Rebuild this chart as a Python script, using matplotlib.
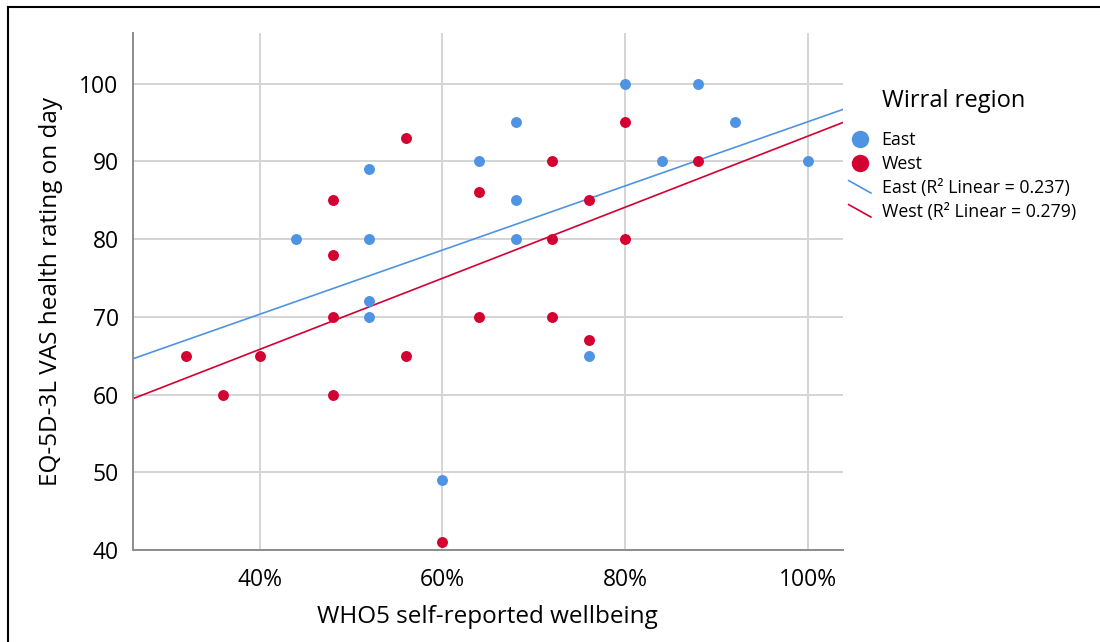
import numpy as np
import matplotlib.pyplot as plt
from matplotlib.lines import Line2D
from matplotlib.legend_handler import HandlerBase

plt.rcParams['font.family'] = ['Open Sans', 'DejaVu Sans']

# WHO5 wellbeing (%) vs EQ-5D-3L VAS rating
east_x = [44, 52, 52, 52, 52, 60, 64, 68, 68, 68, 76, 80, 84, 88, 92, 100]
east_y = [80, 89, 80, 72, 70, 49, 90, 95, 85, 80, 65, 100, 90, 100, 95, 90]
west_x = [32, 36, 40, 48, 48, 48, 48, 56, 56, 60, 64, 64, 72, 72, 72, 76, 76, 80, 80, 88]
west_y = [65, 60, 65, 85, 78, 70, 60, 93, 65, 41, 86, 70, 90, 80, 70, 85, 67, 95, 80, 90]

# fit lines: (intercept, slope)
east_fit = (53.8, 0.413)
west_fit = (47.5, 0.4575)
east_r2 = 0.237
west_r2 = 0.279

blue = '#4f93e3'
red = '#d50032'

fig = plt.figure(figsize=(11, 6.42), dpi=100)
ax = fig.add_axes([0.1205, 0.1433, 0.6458, 0.8053])

xlim = (26.1, 103.8)
ax.set_xlim(xlim)
ax.set_ylim(40, 106.5)

ax.grid(True, color='#d4d4d4', lw=1.4)
ax.set_axisbelow(True)
for s in ['top', 'right']:
    ax.spines[s].set_visible(False)
for s in ['left', 'bottom']:
    ax.spines[s].set_color('#8c8c8c')
    ax.spines[s].set_linewidth(1.4)

xs = np.array(xlim)
ax.plot(xs, east_fit[0] + east_fit[1]*xs, color=blue, lw=1.2, zorder=2)
ax.plot(xs, west_fit[0] + west_fit[1]*xs, color=red, lw=1.2, zorder=2)

ax.scatter(east_x, east_y, s=62, color=blue, lw=0, zorder=3)
ax.scatter(west_x, west_y, s=62, color=red, lw=0, zorder=3)

ax.set_xticks([40, 60, 80, 100])
ax.set_xticklabels(['40%', '60%', '80%', '100%'])
ax.set_yticks([40, 50, 60, 70, 80, 90, 100])
ax.tick_params(length=0, labelsize=16.5)
ax.tick_params(axis='x', pad=13)
ax.tick_params(axis='y', pad=10)
ax.set_xlabel('WHO5 self-reported wellbeing', fontsize=17.5, labelpad=9)
ax.set_ylabel('EQ-5D-3L VAS health rating on day', fontsize=17.5, labelpad=12)


class DiagHandler(HandlerBase):
    def create_artists(self, legend, orig_handle, xdescent, ydescent,
                       width, height, fontsize, trans):
        x0, y0 = -xdescent, -ydescent
        ln = Line2D([x0, x0 + width], [y0 + height, y0],
                    color=orig_handle.get_color(), lw=orig_handle.get_linewidth(),
                    transform=trans)
        return [ln]


h_e = Line2D([], [], marker='o', ls='none', color=blue, markersize=11.5)
h_w = Line2D([], [], marker='o', ls='none', color=red, markersize=11.5)
l_e = Line2D([], [], color=blue, lw=1.2)
l_w = Line2D([], [], color=red, lw=1.2)
labels = ['East', 'West',
          'East (R² Linear = %.3f)' % east_r2,
          'West (R² Linear = %.3f)' % west_r2]
leg = fig.legend([h_e, h_w, l_e, l_w], labels, loc='upper left',
                 bbox_to_anchor=(0.757, 0.821), frameon=False, fontsize=12.8,
                 handlelength=1.25, handletextpad=0.6, labelspacing=0.34,
                 handler_map={l_e: DiagHandler(), l_w: DiagHandler()})
fig.text(0.8018, 0.842, 'Wirral region', fontsize=17, va='center', ha='left')

# frame lines at the top and left edge
fig.add_artist(Line2D([0.0075, 1.0], [0.989, 0.989], color='black', lw=1.5))
fig.add_artist(Line2D([0.0075, 0.0075], [0.0, 0.989], color='black', lw=1.5))

fig.savefig('out.png', dpi=100)
